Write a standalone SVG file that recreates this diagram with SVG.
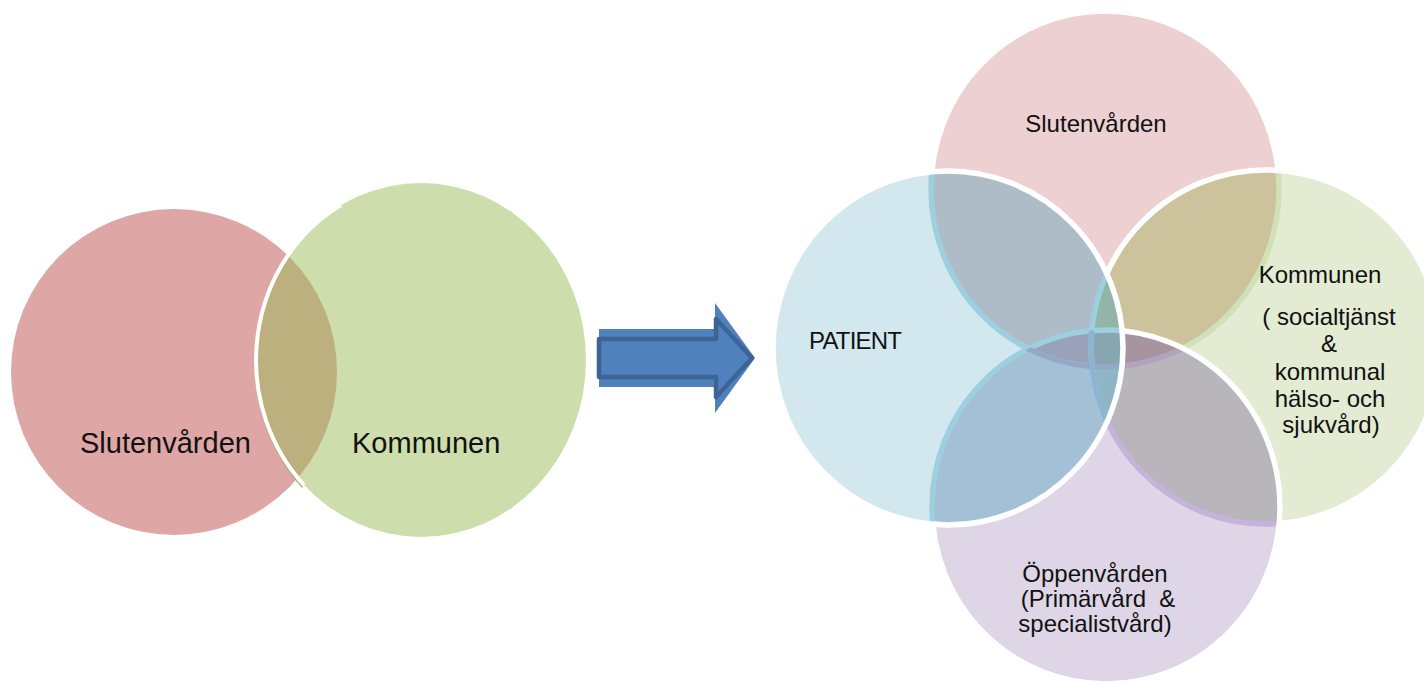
<svg xmlns="http://www.w3.org/2000/svg" xmlns:xlink="http://www.w3.org/1999/xlink" width="1424" height="685" viewBox="0 0 1424 685">
  <style>
    .lbl { font-family: "Liberation Sans", Arial, sans-serif; fill: #111; }
    .big { font-size: 29px; }
    .mid { font-size: 24px; }
    .w { fill: none; stroke: #fff; stroke-width: 5.5; }
    .band { fill: none; stroke-width: 5.5; }
  </style>
  <defs>
    <!-- four-set cluster geometry -->
    <ellipse id="eT" cx="1105" cy="189" rx="174" ry="178"/>
    <ellipse id="eR" cx="1266" cy="347" rx="175" ry="177"/>
    <ellipse id="eB" cx="1106" cy="507" rx="174" ry="177"/>
    <ellipse id="eL" cx="948" cy="348" rx="175" ry="177"/>
    <clipPath id="cT"><ellipse cx="1105" cy="189" rx="174" ry="178"/></clipPath>
    <clipPath id="cR"><ellipse cx="1266" cy="347" rx="175" ry="177"/></clipPath>
    <clipPath id="cB"><ellipse cx="1106" cy="507" rx="174" ry="177"/></clipPath>
    <clipPath id="cL"><ellipse cx="948" cy="348" rx="175" ry="177"/></clipPath>
    <!-- two-set geometry -->
    <clipPath id="cGreen"><ellipse cx="421" cy="360" rx="165" ry="177"/></clipPath>
  </defs>

  <rect width="1424" height="685" fill="#fff"/>

  <!-- two-set diagram -->
  <g id="node-slutenvarden-left">
    <circle cx="174" cy="372" r="163" fill="#DFA6A6"/>
    <text class="lbl big" x="80" y="453">Slutenvården</text>
  </g>
  <g id="node-kommunen-left">
    <ellipse cx="421" cy="360" rx="165" ry="177" fill="#CDDDAC"/>
    <circle cx="174" cy="372" r="163" fill="#BDB07F" clip-path="url(#cGreen)"/>
    <path d="M 341 205.5 A 167.5 179.5 0 0 0 302.6 487.5" fill="none" stroke="#B7AC78" stroke-width="1.5"/>
    <path d="M 341 205 A 165.5 177.5 0 0 0 304 485" fill="none" stroke="#fff" stroke-width="4"/>
    <text class="lbl big" x="352" y="453">Kommunen</text>
  </g>

  <!-- connectors -->
  <g id="connectors">
    <polygon points="599,329 715,329 715,303 755,358 715,413 715,387 599,387" fill="#4F81BD"/>
    <polygon points="599,339 716,339 716,319 752,358 716,397 716,377 599,377" fill="#4F81BD" stroke="#3C6494" stroke-width="4.5" stroke-linejoin="round"/>
  </g>

  <!-- four-set diagram, painted in stacking order -->
  <g id="node-slutenvarden">
    <use xlink:href="#eT" fill="#EDD0D1"/>
    <use xlink:href="#eT" class="w"/>
    <text class="lbl mid" x="1096" y="132" text-anchor="middle">Slutenvården</text>
  </g>

  <g id="node-kommunen">
    <use xlink:href="#eR" fill="#E3EBD3"/>
    <use xlink:href="#eT" fill="#CCC39D" clip-path="url(#cR)"/>
    <use xlink:href="#eT" class="band" stroke="#CFE1B6" clip-path="url(#cR)"/>
    <use xlink:href="#eR" class="w"/>
    <g class="lbl mid" text-anchor="middle">
      <text x="1320" y="283">Kommunen</text>
      <text x="1329" y="325">( socialtjänst</text>
      <text x="1329" y="352">&amp;</text>
      <text x="1330" y="380">kommunal</text>
      <text x="1330" y="407">hälso- och</text>
      <text x="1331" y="433">sjukvård)</text>
    </g>
  </g>

  <g id="node-oppenvarden">
    <use xlink:href="#eB" fill="#DED6E6"/>
    <use xlink:href="#eR" fill="#B9B6BB" clip-path="url(#cB)"/>
    <use xlink:href="#eT" fill="#A7949E" clip-path="url(#cB)"/>
    <use xlink:href="#eR" class="band" stroke="#C4B3DA" clip-path="url(#cB)"/>
    <use xlink:href="#eT" class="band" stroke="#B2A4BC" clip-path="url(#cB)"/>
    <use xlink:href="#eB" class="w"/>
    <g class="lbl mid" text-anchor="middle">
      <text x="1095" y="582">Öppenvården</text>
      <text x="1098" y="607" style="white-space:pre">(Primärvård  &amp;</text>
      <text x="1095" y="632">specialistvård)</text>
    </g>
  </g>

  <g id="node-patient">
    <use xlink:href="#eL" fill="#D3E8EE"/>
    <use xlink:href="#eT" fill="#AEBCC8" clip-path="url(#cL)"/>
    <use xlink:href="#eB" fill="#A3C0D6" clip-path="url(#cL)"/>
    <g clip-path="url(#cL)">
      <use xlink:href="#eR" fill="#93B5A7" clip-path="url(#cT)"/>
      <use xlink:href="#eR" fill="#8FB6C5" clip-path="url(#cB)"/>
      <use xlink:href="#eT" fill="#9AA2B9" clip-path="url(#cB)"/>
      <g clip-path="url(#cB)">
        <use xlink:href="#eR" fill="#88A6B0" clip-path="url(#cT)"/>
      </g>
      <use xlink:href="#eT" class="band" stroke="#9DD0DF"/>
      <use xlink:href="#eR" class="band" stroke="#9DD0DF"/>
      <use xlink:href="#eB" class="band" stroke="#9DD0DF"/>
      <g clip-path="url(#cB)">
        <use xlink:href="#eT" class="band" stroke="#95A9C6"/>
        <use xlink:href="#eR" class="band" stroke="#8FB4CF"/>
      </g>
    </g>
    <use xlink:href="#eL" class="w"/>
    <text class="lbl mid" x="809" y="349" letter-spacing="-0.8">PATIENT</text>
  </g>
</svg>
